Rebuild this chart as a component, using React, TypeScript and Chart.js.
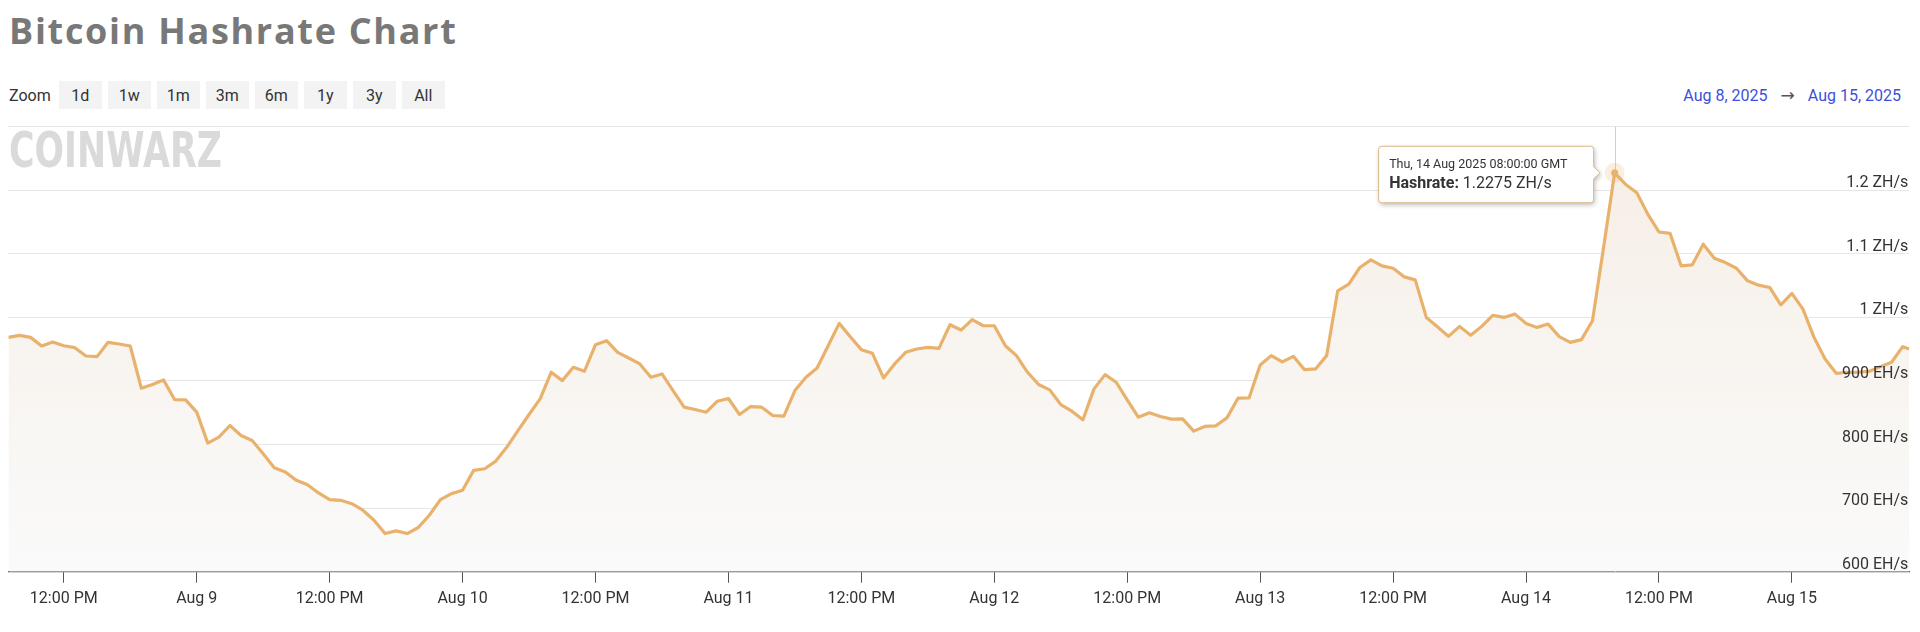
import React, { useEffect, useRef } from "react";
import { Chart, registerables } from "chart.js";

Chart.register(...registerables);

// ---- data -------------------------------------------------------------
const TITLE = "Bitcoin Hashrate Chart";
const ZOOM_BUTTONS = ["1d", "1w", "1m", "3m", "6m", "1y", "3y", "All"];
const RANGE_FROM = "Aug 8, 2025";
const RANGE_TO = "Aug 15, 2025";

// hours counted from Aug 8 2025 00:00 GMT
const FIRST_SAMPLE_HOUR = 7; // hourly samples from Aug 8 07:00 GMT
const LAST_SAMPLE_HOUR = 178.6; // the latest sample (Aug 15 ~10:36 GMT)

// hashrate, EH/s
const HASHRATE = [
  968.6, 971.8, 968.6, 955.0, 961.3, 955.5, 952.4, 939.3, 938.3, 960.8,
  958.2, 955.0, 888.6, 894.4, 901.7, 870.8, 870.3, 851.0, 802.3, 811.7,
  830.0, 814.3, 806.5, 785.6, 763.6, 756.8, 743.7, 736.9, 723.9, 713.4,
  712.3, 707.0, 696.7, 681.0, 660.0, 664.2, 660.0, 669.5, 688.8, 713.4,
  722.8, 728.0, 759.4, 762.0, 774.0, 796.0, 822.0, 847.3, 871.9, 913.7,
  900.6, 921.5, 915.3, 957.1, 963.4, 945.0, 936.2, 926.8, 905.9, 911.1,
  884.9, 858.8, 855.1, 850.9, 868.2, 872.4, 847.3, 859.8, 858.8, 845.7,
  844.7, 884.9, 905.9, 920.5, 955.5, 990.6, 969.7, 949.3, 943.5, 904.8,
  926.8, 945.1, 950.3, 952.9, 951.4, 988.5, 980.1, 996.5, 986.9, 986.9,
  955.5, 939.9, 913.7, 894.4, 886.0, 863.0, 852.5, 838.9, 887.6, 910.0,
  898.0, 870.3, 843.1, 849.9, 844.1, 840.0, 840.5, 821.1, 828.5, 829.5,
  842.0, 872.9, 873.4, 925.2, 939.9, 930.0, 938.8, 917.9, 918.9, 939.9,
  1041.8, 1052.3, 1078.5, 1090.5, 1081.1, 1077.4, 1063.8, 1059.1, 1000.0, 985.4,
  970.2, 985.9, 971.8, 985.9, 1003.1, 1000.0, 1005.2, 990.6, 984.3, 989.5,
  969.7, 960.8, 965.0, 994.8, 1110.0, 1227.5, 1209.2, 1196.1, 1162.1, 1134.4,
  1132.3, 1081.1, 1082.6, 1115.1, 1093.1, 1086.3, 1077.4, 1057.5, 1050.7, 1047.1,
  1019.9, 1037.7, 1013.1, 968.6, 934.6, 912.1, 913.7, 913.7, 915.3, 922.6,
  929.4, 954.0, 950.3,
];

const X_TICK_HOURS = [12, 24, 36, 48, 60, 72, 84, 96, 108, 120, 132, 144, 156, 168];
const X_TICK_LABELS = [
  "12:00 PM", "Aug 9", "12:00 PM", "Aug 10", "12:00 PM", "Aug 11", "12:00 PM",
  "Aug 12", "12:00 PM", "Aug 13", "12:00 PM", "Aug 14", "12:00 PM", "Aug 15",
];

const Y_TICKS = [600, 700, 800, 900, 1000, 1100, 1200, 1300];
const Y_TICK_LABELS = ["600 EH/s", "700 EH/s", "800 EH/s", "900 EH/s", "1 ZH/s", "1.1 ZH/s", "1.2 ZH/s", ""];

const SERIES_NAME = "Hashrate";
const EPOCH = Date.UTC(2025, 7, 8, 0, 0, 0);

// ---- styling ----------------------------------------------------------
const LINE_COLOR = "#e9b26c";
const UI_FONT = "Roboto, 'Liberation Sans', sans-serif";

const points = HASHRATE.map((v, i) => ({
  x: i === HASHRATE.length - 1 ? LAST_SAMPLE_HOUR : FIRST_SAMPLE_HOUR + i,
  y: v,
}));
const HOVER_INDEX = HASHRATE.indexOf(Math.max(...HASHRATE));

function roundedTooltipPath(
  ctx: CanvasRenderingContext2D,
  left: number,
  top: number,
  right: number,
  bottom: number,
  caretY: number,
  caretX: number,
  r: number
) {
  ctx.beginPath();
  ctx.moveTo(left + r, top);
  ctx.lineTo(right - r, top);
  ctx.arcTo(right, top, right, top + r, r);
  ctx.lineTo(right, caretY - 6);
  ctx.lineTo(caretX, caretY);
  ctx.lineTo(right, caretY + 6);
  ctx.lineTo(right, bottom - r);
  ctx.arcTo(right, bottom, right - r, bottom, r);
  ctx.lineTo(left + r, bottom);
  ctx.arcTo(left, bottom, left, bottom - r, r);
  ctx.lineTo(left, top + r);
  ctx.arcTo(left, top, left + r, top, r);
  ctx.closePath();
}

const overlayPlugin = {
  id: "overlay",
  beforeDatasetsDraw(chart: any) {
    const ctx: CanvasRenderingContext2D = chart.ctx;
    const pt = chart.getDatasetMeta(0).data[HOVER_INDEX];
    if (!pt) return;
    const { top, bottom } = chart.chartArea;
    ctx.save();
    ctx.strokeStyle = "#cfcfcf";
    ctx.lineWidth = 1;
    ctx.beginPath();
    const x = Math.round(pt.x) + 0.5;
    ctx.moveTo(x, top);
    ctx.lineTo(x, bottom);
    ctx.stroke();
    ctx.restore();
  },
  afterDatasetsDraw(chart: any) {
    const ctx: CanvasRenderingContext2D = chart.ctx;
    const area = chart.chartArea;
    const yScale = chart.scales.y;

    // y-axis labels, drawn inside the plot, above their grid lines
    ctx.save();
    ctx.font = `16px ${UI_FONT}`;
    ctx.fillStyle = "#333333";
    ctx.textAlign = "right";
    ctx.textBaseline = "middle";
    Y_TICKS.forEach((v, i) => {
      const label = Y_TICK_LABELS[i];
      if (!label) return;
      ctx.fillText(label, area.right - 1, yScale.getPixelForValue(v) - 7);
    });
    ctx.restore();

    // hovered point marker
    const pt = chart.getDatasetMeta(0).data[HOVER_INDEX];
    if (!pt) return;
    const px = pt.x;
    const py = pt.y;
    ctx.save();
    ctx.fillStyle = "rgba(233,178,108,0.22)";
    ctx.beginPath();
    ctx.arc(px, py, 10, 0, Math.PI * 2);
    ctx.fill();
    ctx.fillStyle = LINE_COLOR;
    ctx.beginPath();
    ctx.arc(px, py, 3.5, 0, Math.PI * 2);
    ctx.fill();
    ctx.restore();

    // tooltip
    const raw = points[HOVER_INDEX];
    const title = new Date(EPOCH + raw.x * 3600000).toUTCString();
    const valueText = ` ${(raw.y / 1000).toFixed(4)} ZH/s`;
    const right = px - 21;
    const left = right - 215;
    const top = py - 26.5;
    const bottom = py + 30;
    ctx.save();
    ctx.shadowColor = "rgba(0,0,0,0.28)";
    ctx.shadowBlur = 5;
    ctx.shadowOffsetX = 1;
    ctx.shadowOffsetY = 2;
    roundedTooltipPath(ctx, left, top, right, bottom, py, px - 14.5, 3);
    ctx.fillStyle = "#ffffff";
    ctx.fill();
    ctx.shadowColor = "transparent";
    ctx.strokeStyle = "#dcb884";
    ctx.lineWidth = 1;
    ctx.stroke();

    ctx.textAlign = "left";
    ctx.textBaseline = "middle";
    ctx.fillStyle = "#333333";
    ctx.font = `12.5px ${UI_FONT}`;
    ctx.fillText(title, left + 10.5, py - 7.5);
    ctx.font = `bold 16px ${UI_FONT}`;
    const nameText = `${SERIES_NAME}:`;
    ctx.fillText(nameText, left + 10.5, py + 11);
    const w = ctx.measureText(nameText).width;
    ctx.font = `16px ${UI_FONT}`;
    ctx.fillText(valueText, left + 10.5 + w, py + 11);
    ctx.restore();
  },
};

export default function App() {
  const canvasRef = useRef<HTMLCanvasElement | null>(null);

  useEffect(() => {
    if (!canvasRef.current) return;
    const chart = new Chart(canvasRef.current, {
      type: "line",
      data: {
        datasets: [
          {
            label: SERIES_NAME,
            data: points,
            borderColor: LINE_COLOR,
            borderWidth: 3.2,
            borderJoinStyle: "round",
            pointRadius: 0,
            pointHoverRadius: 0,
            tension: 0,
            fill: "start",
            backgroundColor: (c: any) => {
              const a = c.chart.chartArea;
              if (!a) return "rgb(248,244,240)";
              const g = c.chart.ctx.createLinearGradient(0, a.top, 0, a.bottom);
              g.addColorStop(0, "rgb(246,238,229)");
              g.addColorStop(1, "rgb(250,250,250)");
              return g;
            },
          },
        ],
      },
      options: {
        animation: false,
        responsive: true,
        maintainAspectRatio: false,
        events: [],
        layout: { padding: { left: 0.4, right: 2.7, top: 6.7, bottom: 24.3 } },
        plugins: {
          legend: { display: false },
          tooltip: { enabled: false },
        },
        scales: {
          x: {
            type: "linear",
            min: FIRST_SAMPLE_HOUR,
            max: LAST_SAMPLE_HOUR,
            afterBuildTicks: (s: any) => {
              s.ticks = X_TICK_HOURS.map((v) => ({ value: v }));
            },
            afterFit: (s: any) => {
              s.height = 36;
            },
            grid: {
              display: true,
              drawOnChartArea: false,
              drawTicks: true,
              tickLength: 11,
              tickColor: "#555555",
              tickWidth: 1,
            },
            border: { display: true, color: "#555555", width: 1.2 },
            ticks: {
              autoSkip: false,
              maxRotation: 0,
              padding: 7,
              color: "#333333",
              font: { family: UI_FONT, size: 16 },
              callback: (v: any) => {
                const i = X_TICK_HOURS.indexOf(Number(v));
                return i >= 0 ? X_TICK_LABELS[i] : "";
              },
            },
          },
          y: {
            position: "right",
            min: Y_TICKS[0],
            max: Y_TICKS[Y_TICKS.length - 1],
            afterBuildTicks: (s: any) => {
              s.ticks = Y_TICKS.map((v) => ({ value: v }));
            },
            afterFit: (s: any) => {
              s.width = 0;
            },
            grid: { color: "#e6e6e6", lineWidth: 1, drawTicks: false },
            border: { display: false },
            ticks: { display: false },
          },
        },
      },
      plugins: [overlayPlugin],
    } as any);
    return () => chart.destroy();
  }, []);

  return (
    <div style={{ position: "relative", width: 1904, height: 624, fontFamily: UI_FONT }}>
      <div
        style={{
          position: "absolute",
          left: 1,
          top: 4.5,
          font: "700 36px 'Open Sans', sans-serif",
          lineHeight: "36px",
          letterSpacing: "1.7px",
          color: "#787878",
          whiteSpace: "nowrap",
        }}
      >
        {TITLE}
      </div>

      <div
        style={{
          position: "absolute",
          left: 1,
          top: 73,
          height: 28,
          display: "flex",
          alignItems: "center",
          fontSize: 16,
          color: "#333",
        }}
      >
        <span style={{ width: 50 }}>Zoom</span>
        {ZOOM_BUTTONS.map((b) => (
          <span
            key={b}
            style={{
              width: 42.5,
              height: 28,
              marginRight: 6.5,
              background: "#f3f3f3",
              display: "flex",
              alignItems: "center",
              justifyContent: "center",
            }}
          >
            {b}
          </span>
        ))}
      </div>

      <div
        style={{
          position: "absolute",
          right: 11,
          top: 73,
          height: 28,
          display: "flex",
          alignItems: "center",
          fontSize: 16,
          whiteSpace: "nowrap",
        }}
      >
        <span style={{ color: "#3d50da" }}>{RANGE_FROM}</span>
        <span style={{ color: "#555", margin: "0 13px", fontSize: 17, fontFamily: "'DejaVu Sans', sans-serif" }}>→</span>
        <span style={{ color: "#3d50da" }}>{RANGE_TO}</span>
      </div>

      <div style={{ position: "absolute", left: 0, top: 112, width: 1904, height: 512 }}>
        <canvas ref={canvasRef} />
      </div>

      <div
        style={{
          position: "absolute",
          left: 1,
          top: 118,
          font: "700 49px 'DejaVu Sans', sans-serif",
          lineHeight: "49px",
          color: "#dadada",
          transform: "scaleX(0.71)",
          transformOrigin: "left top",
          whiteSpace: "nowrap",
          pointerEvents: "none",
        }}
      >
        COINWARZ
      </div>
    </div>
  );
}
